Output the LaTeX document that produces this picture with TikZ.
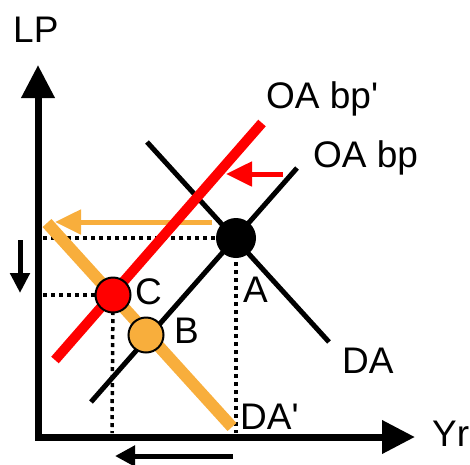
\documentclass[tikz,border=0pt]{standalone}
\usepackage{fontspec}
\setmainfont{Liberation Sans}
\usetikzlibrary{arrows.meta}

\definecolor{shiftorange}{RGB}{248,174,60}

\tikzset{
  axis/.style={line width=7pt,line join=miter,
    {Triangle[length=33pt,width=32pt]}-{Triangle[length=33pt,width=32pt]}},
  curve/.style={line width=5pt},
  guide/.style={line width=3.5pt,dash pattern=on 4pt off 4pt},
  shiftarrow/.style={line width=5pt,-{Triangle[length=26pt,width=24pt]}},
  eqpoint/.style={circle,draw=black,line width=2pt,minimum size=35pt,inner sep=0pt},
  lbl/.style={font=\fontsize{37}{40}\selectfont,inner sep=0pt,anchor=base west}
}

\begin{document}
\begin{tikzpicture}[x=1pt,y=-1pt]
  \useasboundingbox (0,0) rectangle (470,464);

  % axes
  \coordinate (ytip) at (38,65);
  \coordinate (origin) at (38,437);
  \coordinate (xtip) at (415,437);
  \draw[axis] (ytip) -- (origin) -- (xtip);
  \node[lbl] (lp) at (13,42) {LP};
  \node[lbl] (yr) at (432,446) {Yr};

  % curve ends
  \coordinate (oa1) at (91,402);
  \coordinate (oa2) at (297,168);
  \coordinate (da1) at (147,142);
  \coordinate (da2) at (329,342);
  \coordinate (oan1) at (55,360);
  \coordinate (oan2) at (262,123);
  \coordinate (dan1) at (47,223);
  \coordinate (dan2) at (232,427);

  % equilibrium points
  \coordinate (pA) at (236,238);
  \coordinate (pB) at (146,335);
  \coordinate (pC) at (113,295);

  % original curves
  \draw[curve] (oa1) -- (oa2);
  \draw[curve] (da1) -- (da2);

  % guide lines
  \draw[guide] (43,238) -- (pA);
  \draw[guide] (pA) -- (236,433);
  \draw[guide] (43,295) -- (pC);
  \draw[guide] (pC) -- (112,433);

  % shifted curves
  \draw[line width=12pt,shiftorange] (dan1) -- (dan2);
  \coordinate (oshift1) at (212,222);
  \coordinate (oshift2) at (55,222);
  \draw[shiftarrow,shiftorange] (oshift1) -- (oshift2);
  \draw[line width=10pt,red] (oan1) -- (oan2);
  \coordinate (rshift1) at (283,174);
  \coordinate (rshift2) at (226,174);
  \draw[shiftarrow,red] (rshift1) -- (rshift2);

  % points
  \node[eqpoint,fill=black,minimum size=38pt] (A) at (pA) {};
  \node[eqpoint,fill=shiftorange] (B) at (pB) {};
  \node[eqpoint,fill=red] (C) at (pC) {};

  % moves of LP and Yr
  \coordinate (lp1) at (20,240);
  \coordinate (lp2) at (20,293);
  \draw[line width=5pt,-{Triangle[length=20pt,width=19pt]}] (lp1) -- (lp2);
  \coordinate (yr1) at (233,456);
  \coordinate (yr2) at (115,456);
  \draw[line width=5pt,-{Triangle[length=20pt,width=20pt]}] (yr1) -- (yr2);

  % labels
  \node[lbl] (lA) at (243,302) {A};
  \node[lbl] (lB) at (174,343) {B};
  \node[lbl] (lC) at (135,304) {C};
  \node[lbl] (lda) at (342,373) {DA};
  \node[lbl] (ldan) at (240,429) {DA\textquotesingle};
  \node[lbl] (loa) at (313,167) {OA bp};
  \node[lbl] (loan) at (266,108) {OA bp\textquotesingle};
\end{tikzpicture}
\end{document}
